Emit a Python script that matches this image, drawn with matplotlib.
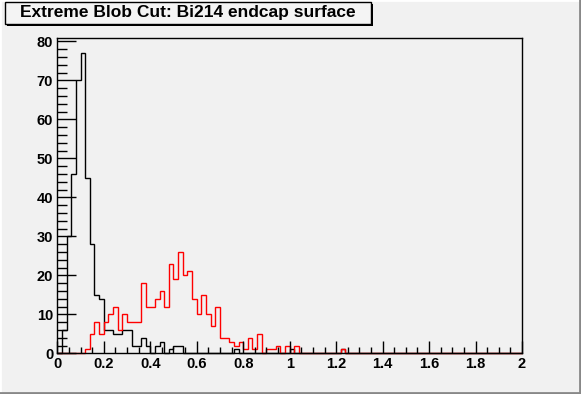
import numpy as np
import matplotlib.pyplot as plt
from matplotlib.patches import Rectangle
from matplotlib.ticker import MultipleLocator, FixedLocator

plt.rcParams['font.family'] = ['Liberation Sans', 'DejaVu Sans']

# bin edges: 100 bins from 0 to 2
x_min, x_max, n_bins = 0.0, 2.0, 100

# black histogram (counts per bin)
black_counts = [
    0, 6, 30, 46, 70, 77, 45, 28, 15, 14, 6, 6, 5, 5, 6, 6, 2, 2, 4, 2,
    0, 2, 3, 0, 1, 2, 2, 0, 0, 0, 0, 0, 0, 0, 0, 0, 0, 0, 1, 0,
    0, 0, 0, 0, 0, 0, 0, 0, 0, 0, 1, 0, 0, 0, 0, 0, 0, 0, 0, 0,
    0, 1, 0, 0, 0, 0, 0, 0, 0, 0, 0, 0, 0, 0, 0, 0, 0, 0, 0, 0,
    0, 0, 0, 0, 0, 0, 0, 0, 0, 0, 0, 0, 0, 0, 0, 0, 0, 0, 0, 0,
]

# red histogram (counts per bin)
red_counts = [
    0, 0, 0, 0, 0, 0, 1, 5, 8, 5, 8, 10, 12, 6, 10, 8, 8, 8, 18, 12,
    12, 14, 16, 12, 23, 19, 26, 20, 21, 14, 10, 15, 10, 7, 12, 4, 4, 3, 2, 3,
    1, 4, 1, 5, 0, 1, 1, 2, 0, 2, 0, 2, 0, 0, 0, 0, 0, 0, 0, 0,
    0, 1, 0, 0, 0, 0, 0, 0, 0, 0, 0, 0, 0, 0, 0, 0, 0, 0, 0, 0,
    0, 0, 0, 0, 0, 0, 0, 0, 0, 0, 0, 0, 0, 0, 0, 0, 0, 0, 0, 0,
]

title = "Extreme Blob Cut: Bi214 endcap surface"
x_ticks = [0, 0.2, 0.4, 0.6, 0.8, 1, 1.2, 1.4, 1.6, 1.8, 2]
x_tick_labels = ["0", "0.2", "0.4", "0.6", "0.8", "1", "1.2", "1.4", "1.6", "1.8", "2"]
y_ticks = [0, 10, 20, 30, 40, 50, 60, 70, 80]

bg = '#f1f1f1'
W, H = 581, 394
fig = plt.figure(figsize=(W / 100, H / 100), dpi=100, facecolor=bg)
ax = fig.add_axes([57.3 / W, 1 - 353.3 / H, (522 - 57.3) / W, (353.3 - 38) / H])
ax.set_facecolor(bg)

edges = np.linspace(x_min, x_max, n_bins + 1)
ax.stairs(black_counts, edges, color='black', lw=1.0, clip_on=False)
ax.stairs(red_counts, edges, color='#ff0000', lw=1.0, clip_on=False)

ax.set_xlim(x_min, x_max)
ax.set_ylim(0, max(black_counts) * 1.05)

for s in ax.spines.values():
    s.set_linewidth(1.0)
    s.set_color('black')

ax.xaxis.set_major_locator(FixedLocator(x_ticks))
ax.xaxis.set_minor_locator(MultipleLocator(0.05))
ax.yaxis.set_major_locator(FixedLocator(y_ticks))
ax.yaxis.set_minor_locator(MultipleLocator(2))
ax.set_xticklabels(x_tick_labels)
ax.tick_params(axis='both', which='both', direction='in', top=False, right=False,
               width=1.0, labelsize=10.5)
ax.tick_params(axis='x', which='major', length=9, pad=3)
ax.tick_params(axis='x', which='minor', length=4.5)
ax.tick_params(axis='y', which='major', length=14, pad=3)
ax.tick_params(axis='y', which='minor', length=7)
for lbl in ax.get_xticklabels() + ax.get_yticklabels():
    lbl.set_fontweight('bold')

# title box with shadow, ROOT style
fig.patches.append(Rectangle((7 / W, 1 - 26 / H), 366 / W, 22 / H, transform=fig.transFigure,
                             facecolor='black', edgecolor='none', zorder=1))
fig.patches.append(Rectangle((5 / W, 1 - 24 / H), 366 / W, 22 / H, transform=fig.transFigure,
                             facecolor='#f4f4f4', edgecolor='black', lw=1.0, zorder=2))
fig.text(188 / W, 1 - 13 / H, title, ha='center', va='center', fontsize=12.5,
         fontweight='bold', zorder=3)

# canvas bevel
fig.patches.append(Rectangle((0, 0), 1, 1, transform=fig.transFigure, fill=False,
                             edgecolor='white', lw=2, zorder=0))
fig.lines.append(plt.Line2D([0, 1], [1 / H, 1 / H], transform=fig.transFigure, color='#888888', lw=2))
fig.lines.append(plt.Line2D([1 - 1 / W, 1 - 1 / W], [0, 1], transform=fig.transFigure, color='#888888', lw=2))

fig.savefig('out.png', dpi=100, facecolor=bg)
